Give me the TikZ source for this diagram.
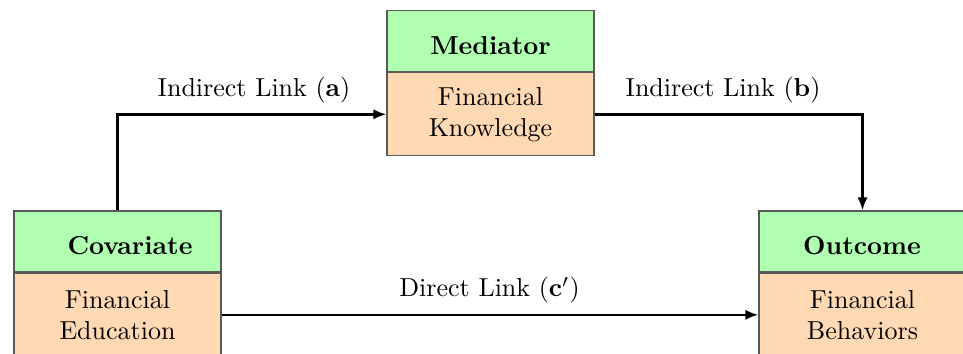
\documentclass[tikz,border=0pt]{standalone}
\usetikzlibrary{arrows.meta}
\definecolor{hgreen}{RGB}{176,255,176}
\definecolor{bpeach}{RGB}{255,217,180}
\begin{document}
\begin{tikzpicture}[x=0.3846pt,y=-0.3846pt,
  head/.style={draw=black!65, line width=0.5pt, fill=hgreen, minimum width=207*0.3846pt, minimum height=61*0.3846pt, inner sep=0pt},
  htext/.style={inner sep=0pt, font=\bfseries},
  body/.style={draw=black!65, line width=0.5pt, fill=bpeach, minimum width=207*0.3846pt, minimum height=83*0.3846pt, inner sep=0pt, align=center, anchor=north},
  arr/.style={line width=1pt, -{Latex[length=5pt,width=4pt]}},
  lbl/.style={inner sep=0pt}]
\useasboundingbox (0,0) rectangle (963,353);
\clip (0,0) rectangle (963,353);
% Covariate
\node[head] (covh) at (117.5,241.5) {};
\node[htext] (covt) at (130,246) {Covariate};
\node[body] (covb) at (covh.south) {Financial\\Education};
% Mediator
\node[head] (medh) at (490.5,41) {};
\node[htext] (medt) at (490.5,46) {Mediator};
\node[body] (medb) at (medh.south) {Financial\\Knowledge};
% Outcome
\node[head] (outh) at (862.5,241.5) {};
\node[htext] (outt) at (862,246) {Outcome};
\node[body] (outb) at (outh.south) {Financial\\Behaviors};
% connectors
\draw[arr] (covh.north) |- (medb.west);
\draw[arr] (medb.east) -| (outh.north);
\draw[arr] (covb.east) -- (outb.west);
% labels
\node[lbl] (la) at (254,90) {Indirect Link (\textbf{a})};
\node[lbl] (lb) at (723,90) {Indirect Link (\textbf{b})};
\node[lbl] (lc) at (489.5,290) {Direct Link (\textbf{c}$'$)};
\end{tikzpicture}
\end{document}
